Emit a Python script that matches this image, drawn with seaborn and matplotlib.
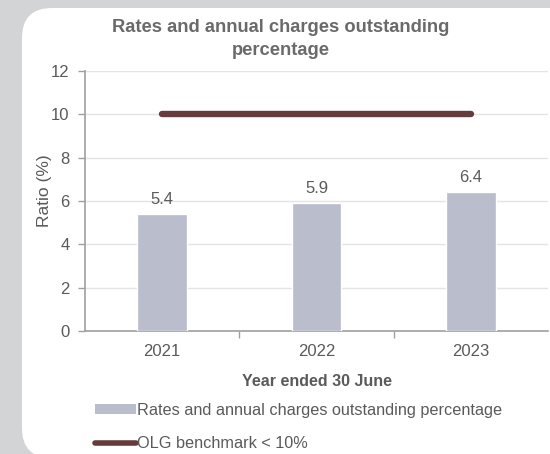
import matplotlib
matplotlib.use("Agg")
import matplotlib.pyplot as plt
import seaborn as sns
import pandas as pd
from matplotlib.patches import FancyBboxPatch, Patch
from matplotlib.lines import Line2D
from matplotlib.transforms import IdentityTransform

# Chart data
years = ["2021", "2022", "2023"]
outstanding_pct = [5.4, 5.9, 6.4]
benchmark = [10, 10, 10]
y_ticks = [0, 2, 4, 6, 8, 10, 12]

title = "Rates and annual charges outstanding\npercentage"
x_label = "Year ended 30 June"
y_label = "Ratio (%)"
bar_series = "Rates and annual charges outstanding percentage"
line_series = "OLG benchmark < 10%"

BG = "#d3d4d6"
BAR = "#b9bdcc"
LINE = "#663b3b"
TEXT = "#5a5a5a"
AXIS = "#a0a0a0"
GRID = "#e4e4e4"

sns.set_theme(style="white")
plt.rcParams["font.family"] = ["Liberation Sans", "DejaVu Sans"]

W, H, DPI = 550, 454, 100
fig = plt.figure(figsize=(W / DPI, H / DPI), dpi=DPI, facecolor=BG)

# White rounded panel behind the chart (pixel coordinates)
panel = FancyBboxPatch((22, -4), 560, H - 8 + 4,
                       boxstyle="round,pad=0,rounding_size=30",
                       transform=IdentityTransform(), facecolor="white",
                       edgecolor="none", zorder=-1)
fig.patches.append(panel)

ax = fig.add_axes([85 / W, 1 - 331 / H, (548 - 85) / W, (331 - 71) / H])
ax.set_zorder(2)
ax.set_facecolor("none")

df = pd.DataFrame({"year": years, "pct": outstanding_pct})
sns.barplot(data=df, x="year", y="pct", color=BAR, width=0.32,
            saturation=1, ax=ax, zorder=3)
ax.bar_label(ax.containers[0], labels=[f"{v:.1f}" for v in outstanding_pct],
             padding=5, fontsize=12, color=TEXT)

sns.lineplot(x=list(range(len(years))), y=benchmark, color=LINE,
             linewidth=4.6, ax=ax, zorder=4, solid_capstyle="round")

ax.set_xlim(-0.5, len(years) - 0.5)
ax.set_ylim(0, 12)
ax.set_yticks(y_ticks)
ax.set_xticks(range(len(years)))
ax.set_xticklabels(years)
ax.set_xticks([0.5, 1.5], minor=True)

ax.grid(axis="y", color=GRID, linewidth=1.0, zorder=0)
ax.set_axisbelow(True)
for side in ("top", "right"):
    ax.spines[side].set_visible(False)
for side in ("left", "bottom"):
    ax.spines[side].set_color(AXIS)
    ax.spines[side].set_linewidth(1.2)

ax.tick_params(axis="y", which="major", left=True, length=5, width=1,
               color=AXIS, labelsize=12, labelcolor=TEXT, pad=6)
ax.tick_params(axis="x", which="major", bottom=False, length=0,
               labelsize=12, labelcolor=TEXT, pad=9)
ax.tick_params(axis="x", which="minor", bottom=True, length=5, width=1,
               color=AXIS)

ax.set_xlabel(x_label, fontsize=11.5, fontweight="bold", color=TEXT,
              labelpad=11)
ax.set_ylabel(y_label, fontsize=12.5, color=TEXT)
ax.yaxis.set_label_coords(-0.071, 0.54)

fig.text(281 / W, 1 - 39 / H, title, ha="center", va="center",
         fontsize=13.2, fontweight="bold", color="#6a6a6a", linespacing=1.4)

handles = [Patch(facecolor=BAR, edgecolor="none"),
           Line2D([0], [0], color=LINE, linewidth=4)]
fig.legend(handles, [bar_series, line_series], loc="upper left",
           bbox_to_anchor=(95 / W, 1 - 403 / H), frameon=False,
           fontsize=11.7, labelcolor=TEXT, handlelength=2.5,
           handleheight=0.55, handletextpad=0.1, labelspacing=1.1,
           borderaxespad=0, borderpad=0)

fig.savefig("out.png", dpi=DPI, facecolor=BG)
